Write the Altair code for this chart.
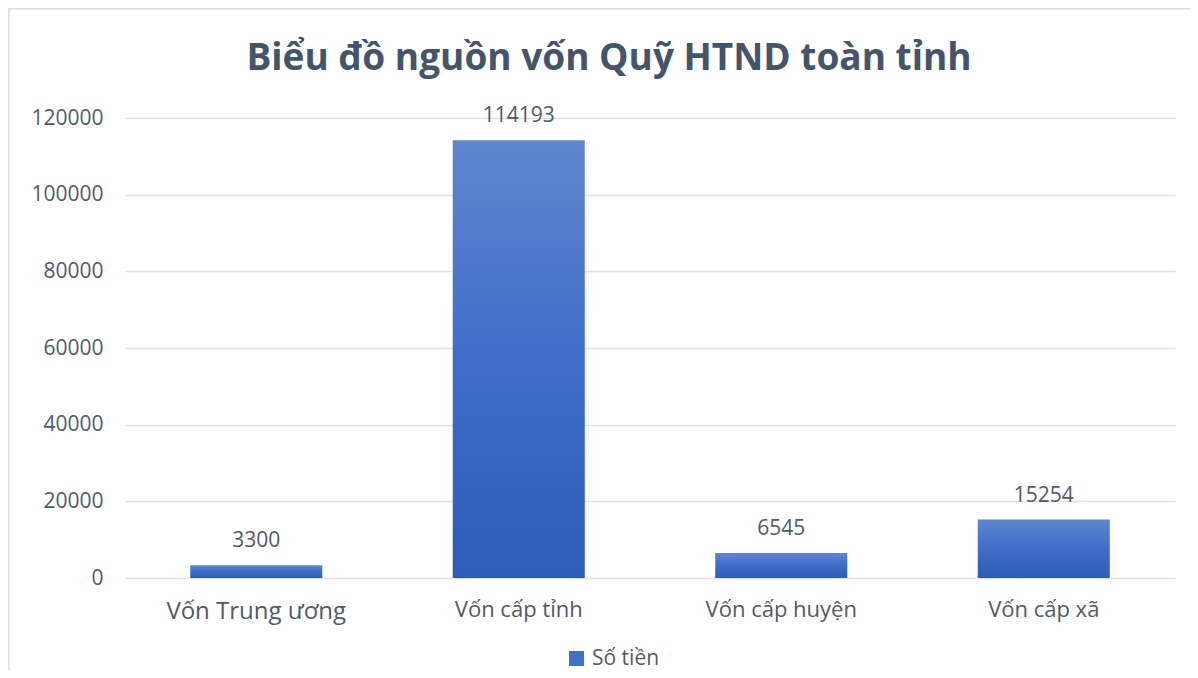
import altair as alt
import pandas as pd

categories = ["Vốn Trung ương", "Vốn cấp tỉnh", "Vốn cấp huyện", "Vốn cấp xã"]
values = [3300, 114193, 6545, 15254]
series_name = "Số tiền"
y_ticks = [0, 20000, 40000, 60000, 80000, 100000, 120000]

df = pd.DataFrame({"cat": categories, "val": values})

FONT = "Open Sans"
TXT = "#4F5B6B"
GRID = "#DFE2E7"
W, H = 1050, 460

grad = alt.LinearGradient(
    gradient="linear",
    x1=0, x2=0, y1=0, y2=1,
    stops=[alt.GradientStop(color="#5F86CE", offset=0),
           alt.GradientStop(color="#3F6DC9", offset=0.5),
           alt.GradientStop(color="#2E5DB8", offset=1)],
)

x_enc = alt.X(
    "cat:N", sort=categories, title=None,
    scale=alt.Scale(paddingInner=0.497, paddingOuter=0.2485),
    axis=alt.Axis(
        labelAngle=0, domain=False, ticks=False, labelPadding=21,
        labelFont=FONT, labelColor=TXT,
        labelFontSize=alt.ExprRef("datum.value == 'Vốn Trung ương' ? 24 : 22"),
    ),
)
y_enc = alt.Y(
    "val:Q", title=None,
    scale=alt.Scale(domain=[0, 120000], nice=False),
    axis=alt.Axis(
        values=y_ticks, format="d", domain=False, ticks=False, labelPadding=22,
        labelFont=FONT, labelFontSize=21, labelColor=TXT,
        gridColor=GRID, gridWidth=1.6,
    ),
)

border = alt.Chart(df).mark_rect(fill=None, stroke="#DDE1E6", strokeWidth=1.5).encode(
    x=alt.value(-116.5), x2=alt.value(W + 200),
    y=alt.value(-109.5), y2=alt.value(H + 300),
)

bars = alt.Chart(df).mark_bar(fill=grad).encode(x=x_enc, y=y_enc)

labels = alt.Chart(df).mark_text(
    font=FONT, fontSize=21, color=TXT, dy=-24, baseline="middle"
).encode(x=alt.X("cat:N", sort=categories), y="val:Q", text=alt.Text("val:Q", format="d"))

legend_layer = alt.Chart(df).mark_square(opacity=0).encode(
    x=alt.value(0), y=alt.value(0),
    color=alt.Color(
        "s:N",
        scale=alt.Scale(domain=[series_name], range=["#4170C8"]),
        legend=alt.Legend(
            title=None, orient="none", legendX=441, legendY=530,
            symbolType="square", symbolSize=225, symbolOpacity=1,
            symbolStrokeWidth=0, labelFont=FONT, labelFontSize=21,
            labelColor=TXT, labelOffset=5, padding=0,
        ),
    ),
).transform_calculate(s=f"'{series_name}'")

chart = (
    alt.layer(border, bars, labels, legend_layer)
    .properties(
        width=W, height=H,
        title=alt.TitleParams(
            "Biểu đồ nguồn vốn Quỹ HTND toàn tỉnh",
            font=FONT, fontSize=37, fontWeight="bold", color="#44546A",
            anchor="middle", frame="group", dx=-41, offset=-99,
            baseline="alphabetic",
        ),
        autosize=alt.AutoSizeParams(type="none"),
        padding={"left": 117, "top": 110, "right": 15, "bottom": 92},
    )
    .configure(background="white", view=alt.ViewConfig(strokeWidth=0, stroke="transparent"))
)

chart.save("out.html", embed_options={"renderer": "svg", "actions": False})
